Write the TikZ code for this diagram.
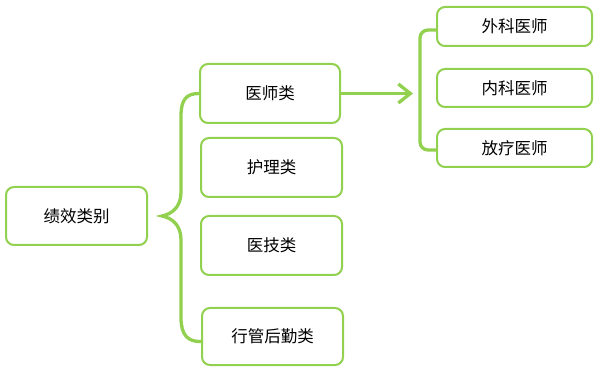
\documentclass[tikz,border=0pt]{standalone}
\usepackage{fontspec}
\setmainfont{Noto Sans CJK SC}
\usetikzlibrary{arrows.meta}
\definecolor{lg}{RGB}{146,208,80}
\tikzset{
  box/.style={draw=lg, line width=2pt, rounded corners=8pt, fill=white, inner sep=0pt, font=\fontsize{16.5pt}{18pt}\selectfont},
  conn/.style={draw=lg, line width=3.3pt}
}
\begin{document}
\begin{tikzpicture}[x=1pt,y=-1pt]
\useasboundingbox (0,0) rectangle (597,371);
\node[box, minimum width=141pt, minimum height=58pt] (jx) at (76.5,216) {绩效类别};
\node[box, minimum width=140pt, minimum height=59pt] (ys) at (270,93.5) {医师类};
\node[box, minimum width=141pt, minimum height=59pt] (hl) at (271.5,167.5) {护理类};
\node[box, minimum width=141pt, minimum height=59pt] (yj) at (271.5,245.5) {医技类};
\node[box, minimum width=141pt, minimum height=57pt] (xg) at (272.5,336.5) {行管后勤类};
\node[box, minimum width=155pt, minimum height=39pt] (wk) at (514.5,26.5) {外科医师};
\node[box, minimum width=155pt, minimum height=38pt] (nk) at (514.5,88) {内科医师};
\node[box, minimum width=155pt, minimum height=38pt] (fl) at (514.5,148) {放疗医师};
\coordinate (tip) at (162,216);
\coordinate (arrEnd) at (413,93.5);
% left brace
\draw[conn, line cap=round]
  (ys.west) .. controls (186,93.5) and (181,100) .. (181,116)
  -- (181,192) .. controls (181,207) and (172,214) .. (tip)
  .. controls (172,218) and (181,225) .. (181,240)
  -- (181,318) .. controls (181,335) and (188,342) .. ([yshift=-5pt]xg.west);
% right bracket
\draw[conn, rounded corners=8pt] ([yshift=-3.5pt]wk.west) -| (420,90) |- ([yshift=-2pt]fl.west);
% arrow
\draw[conn, -{Straight Barb[length=12pt,width=19pt,line width=3.3pt]}] (ys.east) -- (arrEnd);
\end{tikzpicture}
\end{document}
